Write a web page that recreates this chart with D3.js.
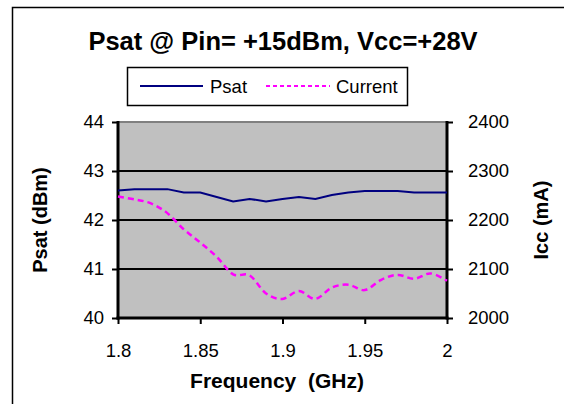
<!DOCTYPE html>
<html><head><meta charset="utf-8">
<script src="https://cdn.jsdelivr.net/npm/d3@7"></script>
<style>html,body{margin:0;padding:0;background:#fff;}svg{display:block;}</style>
</head><body>
<svg id="c" width="564" height="404"></svg>
<script>
const freq = [1.80,1.81,1.82,1.83,1.84,1.85,1.86,1.87,1.88,1.89,1.90,1.91,1.92,1.93,1.94,1.95,1.96,1.97,1.98,1.99,2.00];
const psat = [42.60,42.63,42.63,42.63,42.56,42.56,42.47,42.38,42.43,42.38,42.43,42.47,42.43,42.51,42.56,42.59,42.59,42.59,42.56,42.56,42.56];
const current = [2248,2242,2234,2214,2181,2154,2125,2089,2087,2050,2039,2055,2039,2062,2068,2057,2078,2088,2080,2091,2076];
const xTicks = [1.8,1.85,1.9,1.95,2.0];
const xTickLabels = ["1.8","1.85","1.9","1.95","2"];
const leftTicks = [40,41,42,43,44];
const rightTicks = [2000,2100,2200,2300,2400];
const seriesNames = ["Psat","Current"];
const titleText = "Psat @ Pin= +15dBm, Vcc=+28V";

const svg = d3.select("#c");
const L=118, R=447, T=122, B=318;
const x = d3.scaleLinear().domain([1.8,2.0]).range([L,R]);
const yL = d3.scaleLinear().domain([40,44]).range([B,T]);
const yR = d3.scaleLinear().domain([2000,2400]).range([B,T]);
const font = "'Liberation Sans', Arial, sans-serif";

// outer border
svg.append("rect").attr("x",12.5).attr("y",7.5).attr("width",600).attr("height",450)
  .attr("fill","#fff").attr("stroke","#000").attr("stroke-width",1.5);

// title
svg.append("text").attr("x",283).attr("y",50).attr("text-anchor","middle")
  .attr("font-family",font).attr("font-weight","bold").attr("font-size",25.5).text(titleText);

// legend
const lg = svg.append("g");
lg.append("rect").attr("x",127.5).attr("y",67.5).attr("width",280).attr("height",38)
  .attr("fill","#fff").attr("stroke","#000").attr("stroke-width",1.5);
lg.append("line").attr("x1",140).attr("x2",203).attr("y1",86).attr("y2",86).attr("stroke","#000080").attr("stroke-width",2);
lg.append("text").attr("x",210).attr("y",93).attr("font-family",font).attr("font-size",18.5).text(seriesNames[0]);
lg.append("line").attr("x1",266).attr("x2",330).attr("y1",86).attr("y2",86).attr("stroke","#ff00ff").attr("stroke-width",2).attr("stroke-dasharray","4,3");
lg.append("text").attr("x",336).attr("y",93).attr("font-family",font).attr("font-size",18.5).text(seriesNames[1]);

// plot area
svg.append("rect").attr("x",L).attr("y",T).attr("width",R-L).attr("height",B-T).attr("fill","#c0c0c0");
svg.append("line").attr("x1",L).attr("x2",R).attr("y1",T).attr("y2",T).attr("stroke","#808080").attr("stroke-width",2);

// gridlines
svg.append("g").selectAll("line").data(leftTicks.slice(1,4)).join("line")
  .attr("x1",L).attr("x2",R).attr("y1",d=>yL(d)).attr("y2",d=>yL(d))
  .attr("stroke","#000").attr("stroke-width",2);

// axes
const axL = d3.axisLeft(yL).tickValues(leftTicks).tickSize(6).tickPadding(8).tickFormat(d3.format("d"));
const axR = d3.axisRight(yR).tickValues(rightTicks).tickSize(6).tickPadding(15).tickFormat(d3.format("d"));
const axB = d3.axisBottom(x).tickValues(xTicks).tickSize(6).tickPadding(20).tickFormat((d,i)=>xTickLabels[i]);
function styleAxis(g){
  g.select(".domain").remove();
  g.selectAll(".tick line").attr("stroke","#000").attr("stroke-width",2);
  g.selectAll(".tick text").attr("font-family",font).attr("font-size",18.5).attr("fill","#000");
}
svg.append("g").attr("transform",`translate(${L},0)`).call(axL).call(styleAxis);
svg.append("g").attr("transform",`translate(${R},0)`).call(axR).call(styleAxis);
svg.append("g").attr("transform",`translate(0,${B})`).call(axB).call(styleAxis);
svg.append("line").attr("x1",L).attr("x2",L).attr("y1",T-1).attr("y2",B+1.5).attr("stroke","#000").attr("stroke-width",3);
svg.append("line").attr("x1",R).attr("x2",R).attr("y1",T-1).attr("y2",B+1.5).attr("stroke","#000").attr("stroke-width",3);
svg.append("line").attr("x1",L-1.5).attr("x2",R+1.5).attr("y1",B).attr("y2",B).attr("stroke","#000").attr("stroke-width",3);

// series
const lineP = d3.line().x((d,i)=>x(freq[i])).y(d=>yL(d));
svg.append("path").attr("d",lineP(psat)).attr("fill","none").attr("stroke","#000080").attr("stroke-width",2);
const lineC = d3.line().x((d,i)=>x(freq[i])).y(d=>yR(d)).curve(d3.curveCatmullRom.alpha(0));
svg.append("path").attr("d",lineC(current)).attr("fill","none").attr("stroke","#ff00ff").attr("stroke-width",2.5).attr("stroke-dasharray","6,4");

// axis titles
svg.append("text").attr("x",277).attr("y",388).attr("text-anchor","middle")
  .attr("font-family",font).attr("font-weight","bold").attr("font-size",21).attr("xml:space","preserve").text("Frequency  (GHz)");
svg.append("text").attr("transform","translate(47,220) rotate(-90)").attr("text-anchor","middle")
  .attr("font-family",font).attr("font-weight","bold").attr("font-size",20).text("Psat (dBm)");
svg.append("text").attr("transform","translate(548,220) rotate(-90)").attr("text-anchor","middle")
  .attr("font-family",font).attr("font-weight","bold").attr("font-size",20).text("Icc (mA)");
</script>
</body></html>
